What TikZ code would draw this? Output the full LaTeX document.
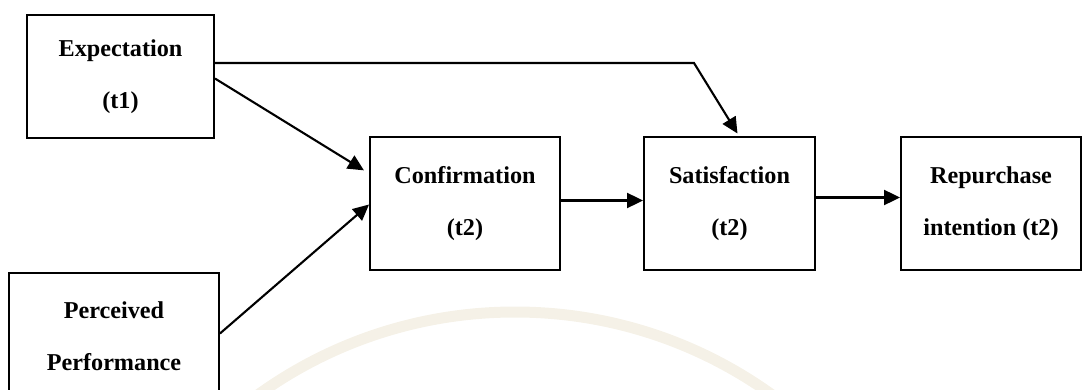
\documentclass[tikz,border=0pt]{standalone}
\usepackage{fontspec}
\setmainfont{Liberation Serif}
\usetikzlibrary{arrows.meta,calc}
\definecolor{wmark}{RGB}{245,241,231}
\begin{document}
\begin{tikzpicture}[x=1pt,y=-1pt,
  box/.style={draw, line width=1.9pt, rectangle, align=center,
    font=\fontsize{24.2}{52}\selectfont\bfseries, inner sep=0pt},
  link/.style={line width=2.1pt, -{Triangle[length=16pt,width=15pt]}}]
\useasboundingbox (0,0) rectangle (1083,390);
% faint seal in the background
\draw[wmark, line width=11pt] (515,752) circle[radius=440];
% boxes
\node[box, minimum width=187pt, minimum height=123pt] (exp) at (120.5,76.5) {Expectation\\(t1)};
\node[box, minimum width=210pt, minimum height=127pt] (perc) at (114,336.5) {Perceived\\Performance};
\node[box, minimum width=190pt, minimum height=133pt] (conf) at (465,203.5) {Confirmation\\(t2)};
\node[box, minimum width=171pt, minimum height=133pt] (sat) at (729.5,203.5) {Satisfaction\\(t2)};
\node[box, minimum width=180pt, minimum height=133pt] (rep) at (991,203.5) {Repurchase\\intention (t2)};
% connectors
\coordinate (bend) at (694,63);
\draw[link, shorten >=3pt] (exp.east |- bend) -- (bend) -- ([xshift=96pt]sat.north west);
\draw[link, shorten >=6pt] ([yshift=-2pt]exp.east) -- ([yshift=30pt]conf.west);
\draw[link] ([yshift=3pt]perc.east) -- ([yshift=-1pt]conf.west);
\draw[link] ([yshift=3pt]conf.east) -- ([yshift=3pt]sat.west);
\draw[link] ([yshift=6pt]sat.east) -- ([yshift=6pt]rep.west);
\end{tikzpicture}
\end{document}
